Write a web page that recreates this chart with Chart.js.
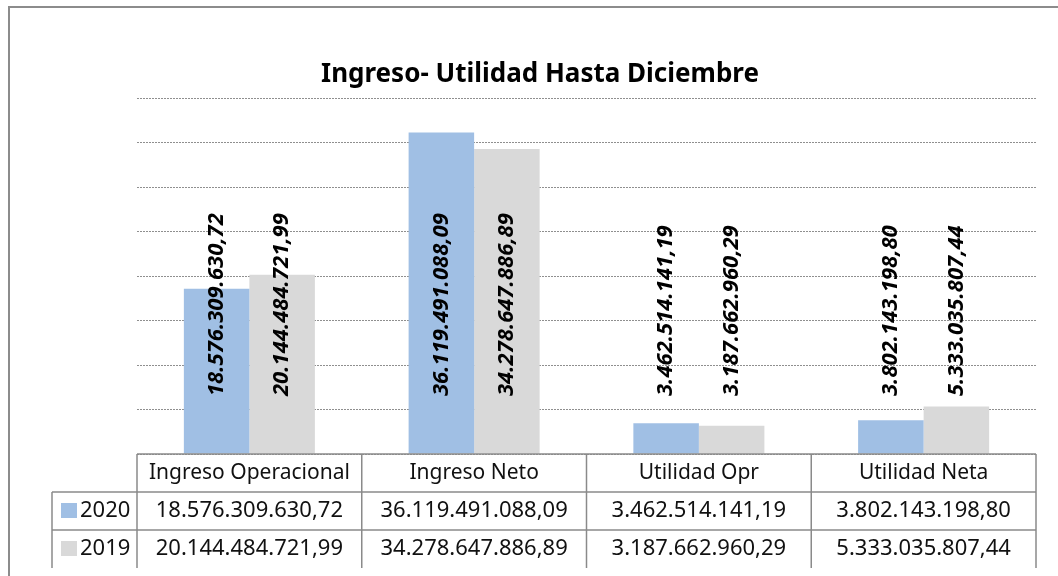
<!DOCTYPE html>
<html lang="es">
<head>
<meta charset="utf-8">
<title>Ingreso- Utilidad Hasta Diciembre</title>
<script src="https://cdn.jsdelivr.net/npm/chart.js@4.4.0/dist/chart.umd.min.js"></script>
<style>
    html, body { margin: 0; padding: 0; background: #fff; }
    #contenedor { width: 1058px; height: 576px; }
</style>
</head>
<body>
<div id="contenedor"><canvas id="graficoIngresos" width="1058" height="576"></canvas></div>
<script>
// Datos del grafico
const categorias = ['Ingreso Operacional', 'Ingreso Neto', 'Utilidad Opr', 'Utilidad Neta'];
const series = ['2020', '2019'];
const valores2020 = [18576309630.72, 36119491088.09, 3462514141.19, 3802143198.80];
const valores2019 = [20144484721.99, 34278647886.89, 3187662960.29, 5333035807.44];
const ejeMaximo = 40000000000;
const ejePaso = 5000000000;

const colores = ['#a0bfe4', '#d9d9d9'];
const fuente = '"Noto Sans", "Open Sans", sans-serif';

// 18576309630.72 -> 18.576.309.630,72
function formatearNumero(valor) {
    const [entero, decimales] = valor.toFixed(2).split('.');
    return entero.replace(/\B(?=(\d{3})+(?!\d))/g, '.') + ',' + decimales;
}

// Titulo y borde exterior
const pluginMarco = {
    id: 'marco',
    afterDraw(chart) {
        const ctx = chart.ctx;
        ctx.save();
        ctx.strokeStyle = '#8c8c8c';
        ctx.lineWidth = 2;
        ctx.strokeRect(9, 7, chart.width + 20, chart.height + 20);
        ctx.fillStyle = '#000';
        ctx.font = 'bold 26px ' + fuente;
        ctx.textAlign = 'center';
        ctx.textBaseline = 'middle';
        ctx.fillText('Ingreso- Utilidad Hasta Diciembre', chart.width / 2 + 11, 75);
        ctx.restore();
    }
};

// Etiquetas verticales sobre las barras
const pluginEtiquetas = {
    id: 'etiquetas',
    afterDatasetsDraw(chart) {
        const ctx = chart.ctx;
        const base = chart.chartArea.bottom - 58;
        ctx.save();
        ctx.fillStyle = '#000';
        ctx.font = 'italic bold 22px ' + fuente;
        ctx.textAlign = 'left';
        ctx.textBaseline = 'middle';
        chart.data.datasets.forEach((ds, i) => {
            chart.getDatasetMeta(i).data.forEach((barra, j) => {
                ctx.save();
                ctx.translate(barra.x, base);
                ctx.rotate(-Math.PI / 2);
                ctx.fillText(formatearNumero(ds.data[j]), 0, 0);
                ctx.restore();
            });
        });
        ctx.restore();
    }
};

// Tabla de datos debajo del grafico
const pluginTabla = {
    id: 'tablaDatos',
    afterDraw(chart) {
        const ctx = chart.ctx;
        const area = chart.chartArea;
        const ancho = area.width / categorias.length;
        const alto = 38;
        const arriba = area.bottom;
        const izqLeyenda = area.left - 85;
        const filas = [valores2020, valores2019];

        ctx.save();
        ctx.strokeStyle = '#8a8a8a';
        ctx.lineWidth = 1.5;

        // lineas horizontales
        ctx.beginPath();
        ctx.moveTo(area.left, arriba);
        ctx.lineTo(area.right, arriba);
        for (let f = 1; f <= filas.length; f++) {
            ctx.moveTo(izqLeyenda, arriba + alto * f);
            ctx.lineTo(area.right, arriba + alto * f);
        }
        // lineas verticales
        ctx.moveTo(izqLeyenda, arriba + alto);
        ctx.lineTo(izqLeyenda, arriba + alto * 3);
        for (let c = 0; c <= categorias.length; c++) {
            ctx.moveTo(area.left + ancho * c, arriba);
            ctx.lineTo(area.left + ancho * c, arriba + alto * 3);
        }
        ctx.stroke();

        ctx.fillStyle = '#111';
        ctx.textAlign = 'center';
        ctx.textBaseline = 'middle';
        categorias.forEach((cat, c) => {
            const cx = area.left + ancho * (c + 0.5);
            ctx.font = '21px ' + fuente;
            ctx.fillText(cat, cx, arriba + alto / 2);
            ctx.font = '22px ' + fuente;
            filas.forEach((fila, f) => {
                ctx.fillText(formatearNumero(fila[c]), cx, arriba + alto * (f + 1.5));
            });
        });

        // leyenda en la tabla
        ctx.textAlign = 'left';
        ctx.font = '22px ' + fuente;
        series.forEach((nombre, f) => {
            const y = arriba + alto * (f + 1.5);
            ctx.fillStyle = colores[f];
            ctx.fillRect(izqLeyenda + 9, y - 8, 16, 15);
            ctx.fillStyle = '#111';
            ctx.fillText(nombre, izqLeyenda + 28, y);
        });
        ctx.restore();
    }
};

const ctx = document.getElementById('graficoIngresos').getContext('2d');
new Chart(ctx, {
    type: 'bar',
    data: {
        labels: categorias,
        datasets: [
            { label: series[0], data: valores2020, backgroundColor: colores[0] },
            { label: series[1], data: valores2019, backgroundColor: colores[1] }
        ]
    },
    options: {
        responsive: false,
        animation: false,
        categoryPercentage: 0.583,
        barPercentage: 1,
        layout: { padding: { left: 137, right: 22, top: 98, bottom: 122 } },
        plugins: {
            legend: { display: false },
            title: { display: false },
            tooltip: { enabled: false }
        },
        scales: {
            x: { display: false },
            y: {
                min: 0,
                max: ejeMaximo,
                ticks: { display: false, stepSize: ejePaso },
                grid: { color: '#8f8f8f', lineWidth: 1, drawTicks: false },
                border: { display: false, dash: [2, 1] }
            }
        }
    },
    plugins: [pluginEtiquetas, pluginTabla, pluginMarco]
});
</script>
</body>
</html>
